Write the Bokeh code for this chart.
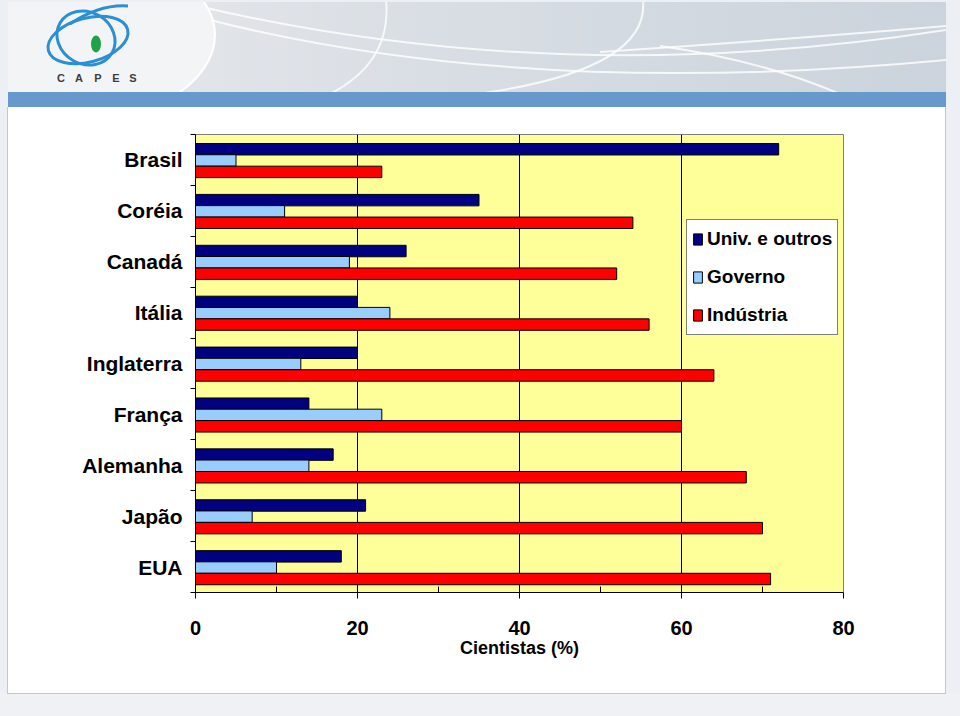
from bokeh.plotting import figure
from bokeh.models import Range1d, FixedTicker, ColumnDataSource, Legend, LegendItem, Div
from bokeh.transform import dodge
from bokeh.layouts import column
from bokeh.embed import file_html
from bokeh.resources import INLINE

# ---------------- data ----------------
countries = ["Brasil", "Coréia", "Canadá", "Itália", "Inglaterra",
             "França", "Alemanha", "Japão", "EUA"]
univ = [72, 35, 26, 20, 20, 14, 17, 21, 18]
governo = [5, 11, 19, 24, 13, 23, 14, 7, 10]
industria = [23, 54, 52, 56, 64, 60, 68, 70, 71]
series_names = ["Univ. e outros", "Governo", "Indústria"]
x_ticks = [0, 20, 40, 60, 80]
x_minor = [10, 30, 50, 70]
x_label = "Cientistas (%)"

FONT = "Liberation Sans"
W = 960
n = len(countries)
pos = [n - 0.5 - i for i in range(n)]
src = ColumnDataSource(dict(country=countries, pos=pos, univ=univ,
                            gov=governo, ind=industria))

# ---------------- header (slide banner, decoration) ----------------
letters = "CAPES"
letter_x = [61, 79, 98, 116, 133]
letters_svg = "".join(
    f'<text x="{x}" y="82" text-anchor="middle" font-family="Liberation Sans" '
    f'font-size="11" font-weight="bold" fill="#3c3c3c">{c}</text>'
    for c, x in zip(letters, letter_x))

header_svg = f"""
<svg xmlns="http://www.w3.org/2000/svg" width="960" height="107" style="display:block">
 <defs>
  <linearGradient id="bg" x1="0" x2="1" y1="0" y2="0">
   <stop offset="0" stop-color="#e8eaee"/>
   <stop offset="0.45" stop-color="#d9dee4"/>
   <stop offset="1" stop-color="#cbd3dc"/>
  </linearGradient>
  <clipPath id="cl"><rect x="8" y="2" width="938" height="90"/></clipPath>
 </defs>
 <rect x="0" y="0" width="960" height="107" fill="#eceff3"/>
 <rect x="8" y="2" width="938" height="90" fill="url(#bg)"/>
 <g clip-path="url(#cl)">
  <g fill="none" stroke="#ffffff" stroke-opacity="0.8" stroke-width="2">
   <path d="M 202 7 Q 560 90 946 30"/>
   <path d="M 386 0 Q 392 62 330 94"/>
   <path d="M 643 0 Q 650 70 477 94"/>
   <path d="M 600 52 Q 780 40 946 26"/>
   <path d="M 660 46 Q 760 60 840 94"/>
   <path d="M 202 18 Q 520 100 946 60"/>
  </g>
  <ellipse cx="60" cy="35" rx="155" ry="90" fill="#f3f4f6" stroke="#ffffff" stroke-width="2"/>
 </g>
 <g fill="none" stroke="#2b8fd4" stroke-width="3">
  <ellipse cx="88" cy="40" rx="41" ry="22" transform="rotate(-15 88 40)"/>
  <ellipse cx="86" cy="38" rx="30" ry="26" transform="rotate(30 86 38)"/>
  <path d="M 70 24 Q 100 4 128 6"/>
 </g>
 <ellipse cx="96" cy="44" rx="5" ry="8.5" fill="#1fa24a"/>
 {letters_svg}
 <rect x="8" y="92" width="938" height="15" fill="#6799cc"/>
</svg>"""
hdr = Div(text=header_svg, width=W, height=107, margin=0)

# ---------------- main chart ----------------
p = figure(width=W, height=586, x_range=Range1d(0, 80), y_range=Range1d(0, n),
           toolbar_location=None, output_backend="svg",
           min_border_left=195, min_border_right=117, min_border_top=27,
           min_border_bottom=101,
           background_fill_color="#ffff99", border_fill_color=None,
           outline_line_color="#808080", outline_line_width=1,
           styles={"background": "linear-gradient(90deg, #eceff3 0px, #eceff3 7px, "
                                 "#b9c9dc 7px, #b9c9dc 8px, #ffffff 8px, #ffffff 945px, "
                                 "#b9c9dc 945px, #b9c9dc 946px, #eceff3 946px, #eceff3 960px)"})

h = 0.225
r1 = p.hbar(y=dodge("pos", 0.21), left=0, right="univ", height=h, source=src,
            fill_color="#000080", line_color="black", line_width=1)
r2 = p.hbar(y=dodge("pos", -0.01), left=0, right="gov", height=h, source=src,
            fill_color="#99ccff", line_color="black", line_width=1)
r3 = p.hbar(y=dodge("pos", -0.235), left=0, right="ind", height=h, source=src,
            fill_color="#ff0000", line_color="black", line_width=1)

p.ygrid.visible = False
p.xgrid.ticker = FixedTicker(ticks=x_ticks[1:-1])
p.xgrid.grid_line_color = "black"
p.xgrid.grid_line_width = 1
p.xgrid.level = "underlay"

xa = p.xaxis[0]
xa.ticker = FixedTicker(ticks=x_ticks, minor_ticks=x_minor)
xa.axis_line_color = "black"
xa.major_tick_line_color = "black"
xa.minor_tick_line_color = "black"
xa.major_tick_out = 6
xa.major_tick_in = 0
xa.minor_tick_in = 6
xa.minor_tick_out = 0
xa.major_label_text_font = FONT
xa.major_label_text_font_size = "20px"
xa.major_label_text_font_style = "bold"
xa.major_label_text_color = "black"
xa.major_label_standoff = 22
xa.axis_label = x_label
xa.axis_label_text_font = FONT
xa.axis_label_text_font_size = "18px"
xa.axis_label_text_font_style = "bold"
xa.axis_label_text_color = "black"
xa.axis_label_standoff = 0

ya = p.yaxis[0]
ya.ticker = FixedTicker(ticks=pos, minor_ticks=list(range(n + 1)))
ya.major_label_overrides = {pp: c for pp, c in zip(pos, countries)}
ya.axis_line_color = "black"
ya.major_tick_line_color = None
ya.major_tick_out = 0
ya.major_tick_in = 0
ya.minor_tick_line_color = "black"
ya.minor_tick_out = 5
ya.minor_tick_in = 0
ya.major_label_standoff = 8
ya.major_label_text_font = FONT
ya.major_label_text_font_size = "21px"
ya.major_label_text_font_style = "bold"
ya.major_label_text_color = "black"

legend = Legend(items=[LegendItem(label=series_names[0], renderers=[r1]),
                       LegendItem(label=series_names[1], renderers=[r2]),
                       LegendItem(label=series_names[2], renderers=[r3])],
                location=(491, 257), margin=0, padding=5, spacing=10,
                glyph_width=11, glyph_height=14, label_standoff=4,
                label_height=28, label_text_font=FONT,
                label_text_font_size="19px", label_text_font_style="bold",
                label_text_color="black",
                border_line_color="black", border_line_width=1,
                background_fill_color="white", background_fill_alpha=1)
p.add_layout(legend)

# ---------------- footer (slide frame, decoration) ----------------
footer_html = ('<div style="width:960px;height:23px;background:#eff1f4;position:relative;">'
               '<div style="position:absolute;left:7px;top:0;width:939px;height:1px;'
               'background:#b9c9dc;"></div></div>')
ftr = Div(text=footer_html, width=W, height=23, margin=0)

layout = column(hdr, p, ftr, spacing=0)
open("out.html", "w").write(file_html(layout, INLINE))
